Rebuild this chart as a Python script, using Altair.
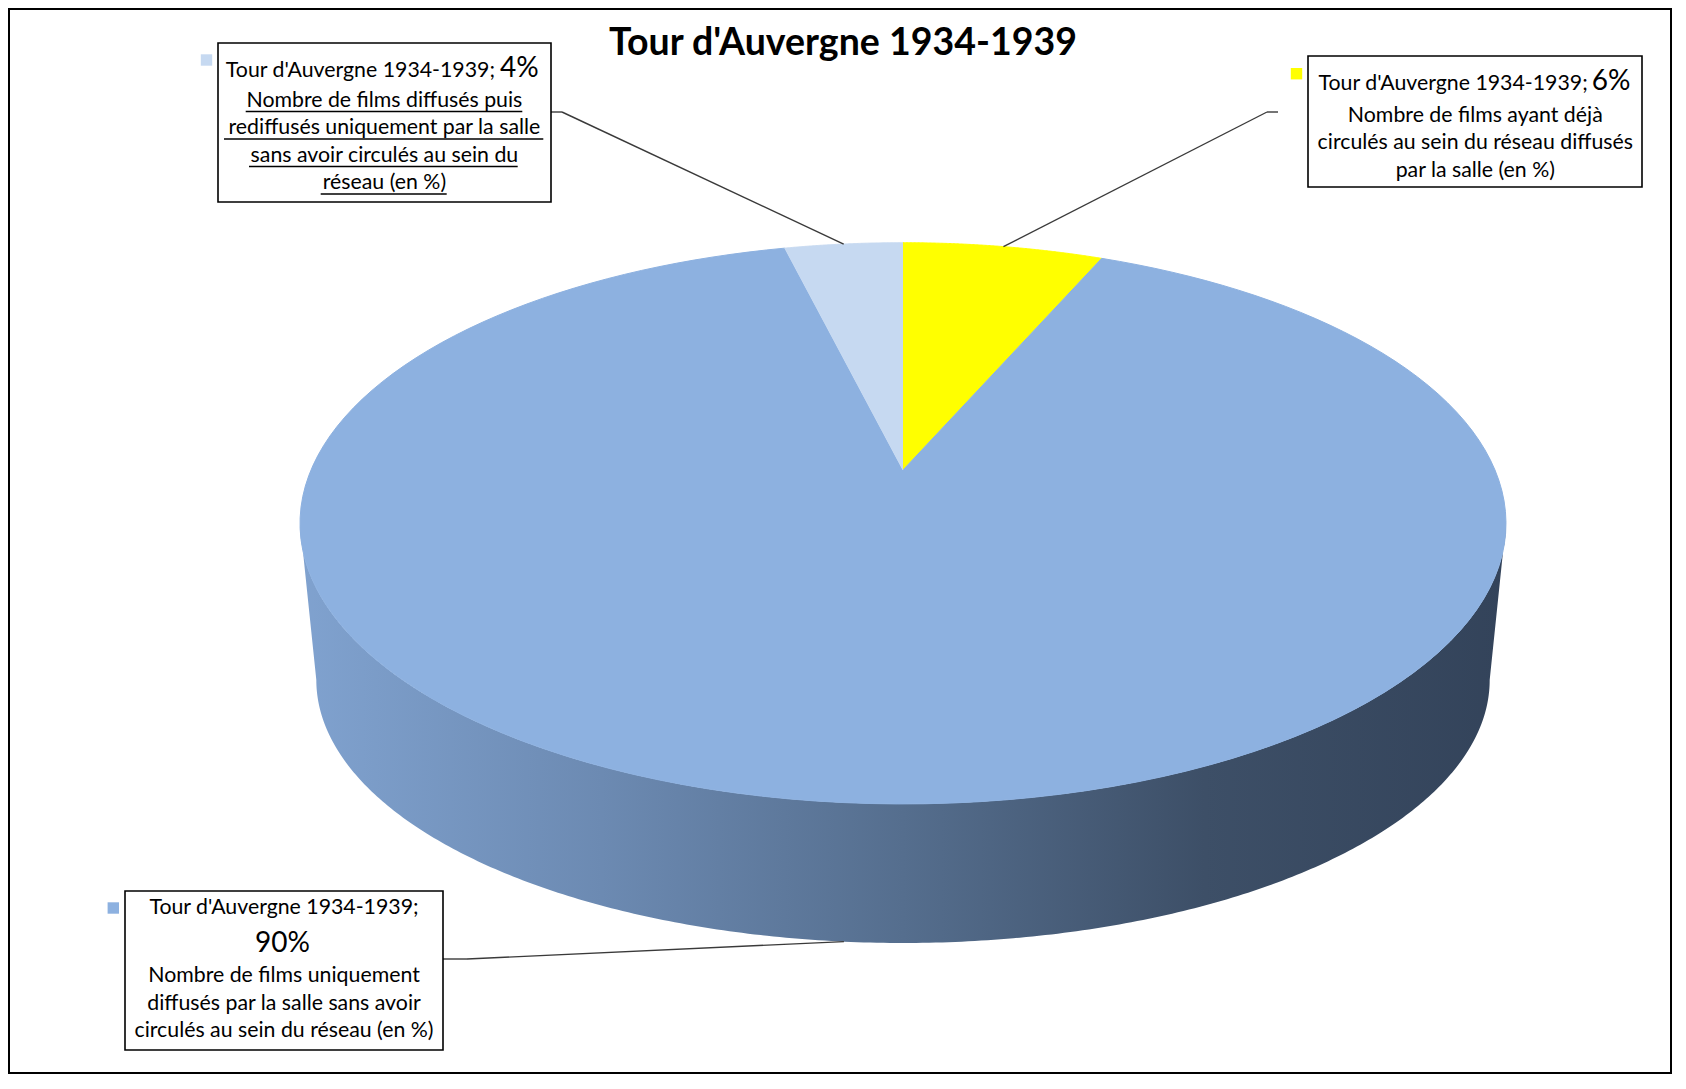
import altair as alt
import pandas as pd

# ---------------- data ----------------
SERIES = "Tour d'Auvergne 1934-1939"
CATEGORIES = [
    "Nombre de films ayant déjà\ncirculés au sein du réseau diffusés\npar la salle (en %)",
    "Nombre de films uniquement\ndiffusés par la salle sans avoir\ncirculés au sein du réseau (en %)",
    "Nombre de films diffusés puis\nrediffusés uniquement par la salle\nsans avoir circulés au sein du\nréseau (en %)",
]
VALUES = [6.45, 89.75, 3.8]

# ---------------- style / layout ----------------
COLORS = ["#FFFF00", "#8DB1E0", "#C6D9F1"]
FONT = "Lato"
BODY_SIZE = 21.3
PCT_SIZE = 28
LINE_H = 27.5
W, H = 1664, 1066
X_DOMAIN = [8, 8 + W]
Y_DOMAIN = [8, 8 + H]
# perspective ellipse of the pie (top face, bottom face)
CX, CY, A, B, K = 903, 470, 592, 270.5, 0.19
CY2, A2, B2 = 630, 576, 253.5
N_ARC = 150
N_SIDE = 300
TITLE_POS = (843, 55)

LAYOUT = [
    dict(bx1=1308, by1=56, bx2=1642, by2=187, kx=1296.5, ky=73.7,
         head_x=1587.7, head_y=90, head_align="right", pct_x=1591.7, pct_y=90, pct_align="left",
         desc_x=1475.3, desc_y=121.7, edge_x=1278, elbow_x=1267, anchor_y=112),
    dict(bx1=125, by1=891, bx2=443, by2=1050, kx=113.3, ky=908,
         head_x=284, head_y=914, head_align="center", pct_x=282.5, pct_y=952, pct_align="center",
         desc_x=284, desc_y=982.3, edge_x=443, elbow_x=467, anchor_y=959),
    dict(bx1=218, by1=43, bx2=551, by2=202, kx=206.5, ky=60,
         head_x=495, head_y=76.7, head_align="right", pct_x=500, pct_y=76.7, pct_align="left",
         desc_x=384.4, desc_y=106.5, edge_x=551, elbow_x=562, anchor_y=112),
]
UNDERLINES = [
    dict(x1=245.7, x2=522.3, y=111.5),
    dict(x1=224.0, x2=543.3, y=139.0),
    dict(x1=249.0, x2=517.7, y=166.5),
    dict(x1=320.7, x2=446.7, y=194.0),
]
SIDE_STOPS = [(0, "#80A2CF"), (0.25, "#6C8AB2"), (0.5, "#556E8E"), (0.75, "#3D4F67"), (1, "#33435A")]

# ---------------- helpers ----------------
xs = alt.Scale(domain=X_DOMAIN, nice=False, zero=False)
ys = alt.Scale(domain=Y_DOMAIN, nice=False, zero=False, reverse=True)
cscale = alt.Scale(domain=CATEGORIES, range=COLORS)


def X(f):
    return alt.X(f, type="quantitative", scale=xs, axis=None)


def Y(f):
    return alt.Y(f, type="quantitative", scale=ys, axis=None)


def px_expr(u, v, a=A):
    return f"{CX} + {a}*({u})/(1 + {K}*({v}))"


def py_expr(v, cy=CY, b=B):
    return f"{cy} - {b}*({v})/(1 + {K}*({v}))"


df = pd.DataFrame({"cat": CATEGORIES, "value": VALUES, "idx": list(range(len(VALUES)))})
lab = pd.concat([df, pd.DataFrame(LAYOUT)], axis=1)
lab["head"] = SERIES + ";"


def with_shares(chart):
    return (chart
            .transform_window(cum="sum(value)", sort=[alt.SortField("idx")], frame=[None, 0])
            .transform_joinaggregate(total="sum(value)"))


# ---------------- side of the 3D pie ----------------
th_r = f"acos(-{K})"
th_l = f"(2*PI - acos(-{K}))"
side = (
    alt.Chart(alt.sequence(0, 2 * N_SIDE + 2, as_="s"))
    .transform_calculate(
        top=f"datum.s <= {N_SIDE}",
        th=f"datum.s <= {N_SIDE} ? {th_r} + ({th_l} - {th_r})*datum.s/{N_SIDE} "
           f": {th_l} - ({th_l} - {th_r})*(datum.s - {N_SIDE} - 1)/{N_SIDE}",
    )
    .transform_calculate(u="sin(datum.th)", v="cos(datum.th)")
    .transform_calculate(
        px=f"datum.top ? {px_expr('datum.u', 'datum.v', A)} : {px_expr('datum.u', 'datum.v', A2)}",
        py=f"datum.top ? {py_expr('datum.v', CY, B)} : {py_expr('datum.v', CY2, B2)}",
    )
    .mark_line(
        filled=True,
        strokeOpacity=0,
        fill=alt.LinearGradient(
            gradient="linear",
            stops=[alt.GradientStop(offset=o, color=c) for o, c in SIDE_STOPS],
            x1=0, x2=1, y1=0, y2=0,
        ),
    )
    .encode(x=X("px"), y=Y("py"), order=alt.Order("s:Q"))
)

# ---------------- top face slices ----------------
slices = (
    with_shares(alt.Chart(df))
    .transform_calculate(
        t0="2*PI*(datum.cum - datum.value)/datum.total",
        t1="2*PI*datum.cum/datum.total",
        step=f"sequence(0, {N_ARC + 2})",
    )
    .transform_flatten(["step"])
    .transform_calculate(th=f"datum.t0 + (datum.t1 - datum.t0)*(datum.step - 1)/{N_ARC}")
    .transform_calculate(
        u="datum.step == 0 ? 0 : sin(datum.th)",
        v="datum.step == 0 ? 0 : cos(datum.th)",
    )
    .transform_calculate(px=px_expr("datum.u", "datum.v"), py=py_expr("datum.v"))
    .mark_line(filled=True, strokeWidth=1)
    .encode(
        x=X("px"),
        y=Y("py"),
        fill=alt.Fill("cat:N", scale=cscale, legend=None),
        stroke=alt.Stroke("cat:N", scale=cscale, legend=None),
        detail="cat:N",
        order=alt.Order("step:Q"),
    )
)

# ---------------- leader lines ----------------
lead_base = (
    with_shares(alt.Chart(lab))
    .transform_calculate(mid="PI*(2*datum.cum - datum.value)/datum.total")
    .transform_calculate(u="sin(datum.mid)", v="cos(datum.mid)")
    .transform_calculate(
        px=f"datum.v < 0 ? {px_expr('datum.u', 'datum.v', A2)} : {px_expr('datum.u', 'datum.v', A)}",
        py=f"datum.v < 0 ? {py_expr('datum.v', CY2, B2)} : {py_expr('datum.v', CY, B)}",
    )
)
lead_diag = lead_base.mark_rule(color="#3a3a3a", strokeWidth=1.4).encode(
    x=X("elbow_x"), y=Y("anchor_y"), x2="px:Q", y2="py:Q")
lead_horiz = alt.Chart(lab).mark_rule(color="#3a3a3a", strokeWidth=1.4).encode(
    x=X("edge_x"), x2="elbow_x:Q", y=Y("anchor_y"))

# ---------------- label boxes ----------------
boxes = alt.Chart(lab).mark_rect(fill="white", stroke="black", strokeWidth=1.6).encode(
    x=X("bx1"), x2="bx2:Q", y=Y("by1"), y2="by2:Q")
keys = alt.Chart(lab).mark_square(size=130, opacity=1).encode(
    x=X("kx"), y=Y("ky"), color=alt.Color("cat:N", scale=cscale, legend=None))

txt = dict(font=FONT, color="black", baseline="alphabetic")
heads = []
for al in ["right", "center", "left"]:
    heads.append(
        alt.Chart(lab).transform_filter(f"datum.head_align == '{al}'")
        .mark_text(align=al, fontSize=BODY_SIZE, **txt)
        .encode(x=X("head_x"), y=Y("head_y"), text="head:N")
    )
    heads.append(
        with_shares(alt.Chart(lab)).transform_filter(f"datum.pct_align == '{al}'")
        .transform_calculate(pct="format(datum.value/datum.total, '.0%')")
        .mark_text(align=al, fontSize=PCT_SIZE, **txt)
        .encode(x=X("pct_x"), y=Y("pct_y"), text="pct:N")
    )
descs = alt.Chart(lab).mark_text(align="center", fontSize=BODY_SIZE, lineBreak="\n", lineHeight=LINE_H, **txt).encode(
    x=X("desc_x"), y=Y("desc_y"), text="cat:N")
underl = alt.Chart(pd.DataFrame(UNDERLINES)).mark_rule(color="black", strokeWidth=1.3).encode(
    x=X("x1"), x2="x2:Q", y=Y("y"))

title = alt.Chart(pd.DataFrame({"t": [SERIES], "x": [TITLE_POS[0]], "y": [TITLE_POS[1]]})).mark_text(
    font=FONT, fontSize=37.5, fontWeight="bold", align="center", baseline="alphabetic", color="black"
).encode(x=X("x"), y=Y("y"), text="t:N")

chart = (
    alt.layer(side, slices, lead_diag, lead_horiz, boxes, keys, *heads, descs, underl, title)
    .properties(width=W, height=H, padding=0)
    .configure_view(stroke="black", strokeWidth=4)
)

chart.save("out.html", embed_options={"renderer": "svg", "actions": False})
